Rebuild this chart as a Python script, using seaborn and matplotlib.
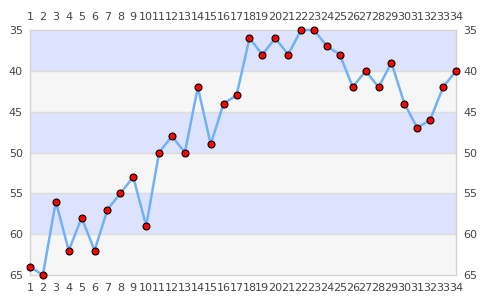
import matplotlib
matplotlib.use("Agg")
import matplotlib.pyplot as plt
import seaborn as sns
import pandas as pd

positions = list(range(1, 35))
values = [64, 65, 56, 62, 58, 62, 57, 55, 53, 59, 50, 48, 50, 42, 49, 44, 43,
          36, 38, 36, 38, 35, 35, 37, 38, 42, 40, 42, 39, 44, 47, 46, 42, 40]
y_ticks = [35, 40, 45, 50, 55, 60, 65]

df = pd.DataFrame({"pos": positions, "val": values})

sns.set_style("white")
plt.rcParams["font.family"] = ["DejaVu Sans"]

fig = plt.figure(figsize=(4.85, 3.0), dpi=100)
ax = fig.add_axes([30/485, 1-275/300, 426/485, 245/300])

band_colors = ["#dde3fd", "#f6f6f6"]
for i in range(len(y_ticks) - 1):
    ax.axhspan(y_ticks[i], y_ticks[i+1], color=band_colors[i % 2], zorder=0, lw=0)
for t in y_ticks[1:-1]:
    ax.axhline(t, color="#dcdcdc", lw=1, zorder=0.5)

sns.lineplot(data=df, x="pos", y="val", ax=ax, color="#72b2f4", lw=1.8,
             marker="o", markersize=5.0, markerfacecolor="#ff0000",
             markeredgecolor="#000000", markeredgewidth=0.8, zorder=3, clip_on=False)

ax.set_xlim(1, 34)
ax.set_ylim(65, 35)
ax.set_xticks(positions)
ax.set_xticklabels([str(p) for p in positions])
ax.set_yticks(y_ticks)
ax.set_xlabel("")
ax.set_ylabel("")
ax.tick_params(axis="both", length=0, labelsize=8, colors="#444444",
               top=True, labeltop=True, right=True, labelright=True)
ax.tick_params(axis="x", pad=6)
ax.tick_params(axis="y", pad=5)
for s in ax.spines.values():
    s.set_color("#d4d4d4")
    s.set_linewidth(1)

fig.savefig("out.png", dpi=100, facecolor="white")
